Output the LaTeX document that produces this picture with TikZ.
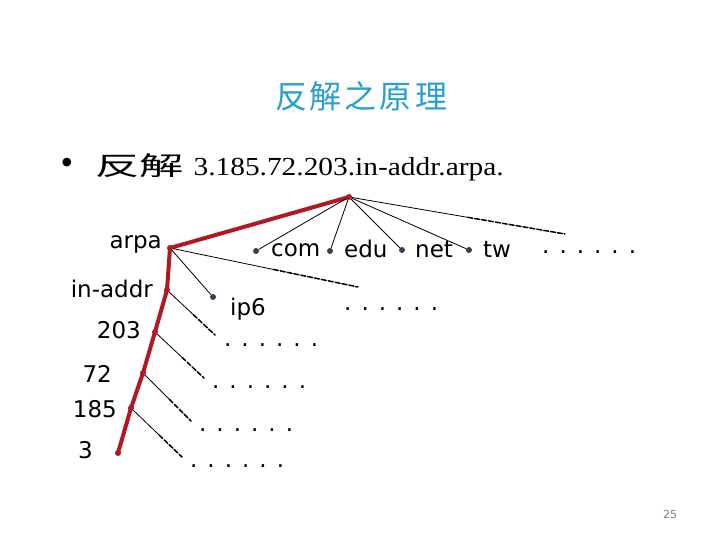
\documentclass[tikz,border=0pt]{standalone}
\usepackage{fontspec}
\setmainfont{Liberation Serif}
\newfontfamily\cjk{Noto Sans CJK TC}
\newfontfamily\lblfont{DejaVu Sans}
\usetikzlibrary{calc}
\definecolor{treered}{RGB}{178,24,36}
\definecolor{dotgrey}{RGB}{52,64,84}
\definecolor{titleblue}{RGB}{38,160,205}
\newcommand{\dotrow}{.\kern10pt.\kern10pt.\kern10pt.\kern10pt.\kern10pt.}

\begin{document}
\begin{tikzpicture}[x=1pt, y=-1pt, line cap=round, line join=round,
  rnode/.style={circle, fill=treered, inner sep=0pt, minimum size=6pt},
  bnode/.style={circle, fill=dotgrey, inner sep=0pt, minimum size=6pt},
  lbl/.style={font=\lblfont\fontsize{23}{27}\selectfont, inner sep=0pt},
  dotrowlbl/.style={lbl, anchor=base west},
  twig/.style={line width=0.8pt},
  twigdash/.style={line width=1.5pt, dash pattern=on 5pt off 2pt},
  redline/.style={line width=4pt, treered}]
  \useasboundingbox (0,0) rectangle (720,540);
  % --- title and bullet ---
  \node[font=\cjk\fontsize{32}{36}\selectfont, text=titleblue] (title) at (361,96)
    {反\kern3pt解\kern3pt之\kern3pt原\kern3pt理};
  \node[anchor=base, font=\fontsize{36}{40}\selectfont] (bullet) at (67,175) {•};
  \node[anchor=base west, inner sep=0pt, font=\fontsize{26}{30}\selectfont] (query) at (95,176)
    {\scalebox{1.7}[1]{\cjk 反解}\kern10pt\scalebox{1.13}[1]{3.185.72.203.in-addr.arpa.}};
  % --- red path of the tree ---
  \node[rnode] (root) at (349,197) {};
  \node[rnode] (arpa) at (170,248) {};
  \node[rnode] (inaddr) at (167,290) {};
  \node[rnode] (n203) at (155,332) {};
  \node[rnode] (n72) at (143,373) {};
  \node[rnode] (n185) at (131,408) {};
  \node[rnode] (n3) at (118,453) {};
  \draw[redline] (root.center) -- (arpa.center) -- (inaddr.center) -- (n203.center)
    -- (n72.center) -- (n185.center) -- (n3.center);
  % --- labels on the left ---
  \node[lbl, anchor=base east] (arpalbl) at (162,248) {arpa};
  \node[lbl, anchor=base east] (inaddrlbl) at (153,297) {in-addr};
  \node[lbl, anchor=base east] (lbl203) at (141,338) {203};
  \node[lbl, anchor=base east] (lbl72) at (112,382) {72};
  \node[lbl, anchor=base east] (lbl185) at (117,417) {185};
  \node[lbl, anchor=base east] (lbl3) at (93,458) {3};
  % --- other children ---
  \node[bnode] (com) at (256,251) {};
  \node[bnode] (edu) at (330,251) {};
  \node[bnode] (net) at (402,250) {};
  \node[bnode] (tw) at (469,250) {};
  \node[bnode] (ip6) at (213,297) {};
  \draw[twig] (root) -- (com);
  \draw[twig] (root) -- (edu);
  \draw[twig] (root) -- (net);
  \draw[twig] (root) -- (tw);
  \draw[twig] (arpa) -- (ip6);
  \node[lbl, anchor=base west] (comlbl) at (271,256) {com};
  \node[lbl, anchor=base west] (edulbl) at (344,257) {edu};
  \node[lbl, anchor=base west] (netlbl) at (415,257) {net};
  \node[lbl, anchor=base west] (twlbl) at (483,257) {tw};
  \node[lbl, anchor=base west] (ip6lbl) at (230,315) {ip6};
  % --- branches that go on ---
  \coordinate (endroot) at (565,234);
  \coordinate (endarpa) at (358,287);
  \coordinate (endinaddr) at (215,335);
  \coordinate (end203) at (204,378);
  \coordinate (end72) at (191,421);
  \coordinate (end185) at (182,457);
  \foreach \s/\e in {root/endroot, arpa/endarpa, inaddr/endinaddr, n203/end203, n72/end72, n185/end185} {
    \draw[twig] (\s) -- ($(\s)!0.55!(\e)$);
    \draw[twigdash] ($(\s)!0.55!(\e)$) -- (\e);
  }
  \node[dotrowlbl] (morertop) at (542,253) {\dotrow};
  \node[dotrowlbl] (morearpa) at (344,310) {\dotrow};
  \node[dotrowlbl] (moreinaddr) at (224,346) {\dotrow};
  \node[dotrowlbl] (more203) at (212,388) {\dotrow};
  \node[dotrowlbl] (more72) at (199,431) {\dotrow};
  \node[dotrowlbl] (more185) at (190,467) {\dotrow};
  % --- page number ---
  \node[font=\lblfont\fontsize{11}{13}\selectfont, text=gray] (pageno) at (670,514) {25};
\end{tikzpicture}
\end{document}
